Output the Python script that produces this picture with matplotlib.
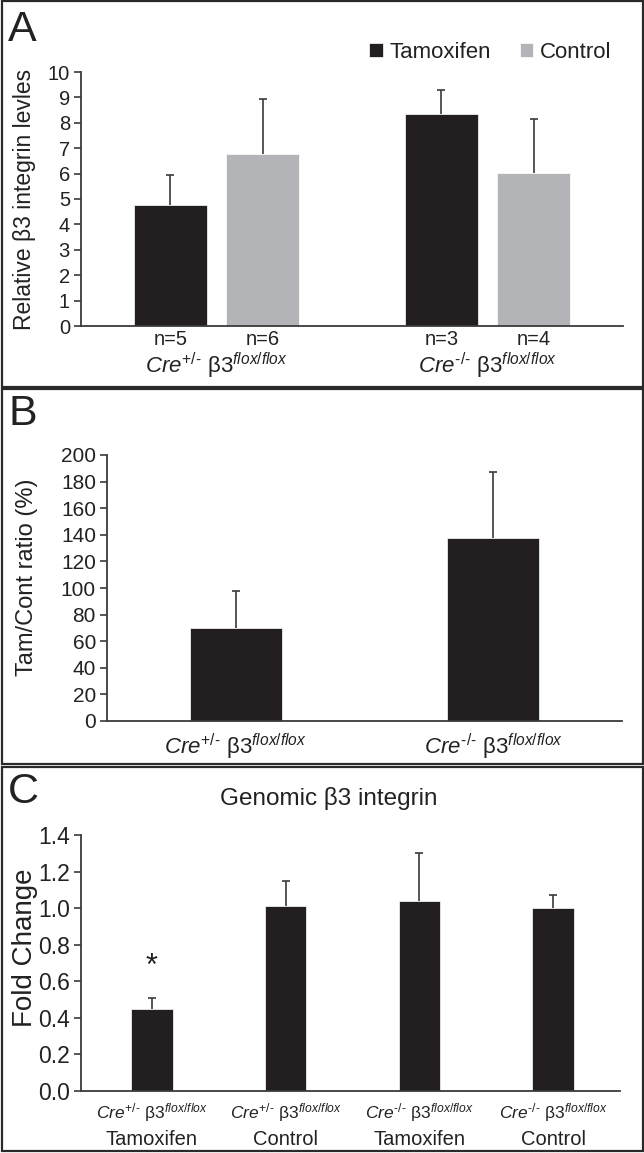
import matplotlib
matplotlib.use("Agg")
import matplotlib.pyplot as plt
from matplotlib.patches import Rectangle
import matplotlib.transforms as mtransforms
import numpy as np

plt.rcParams['font.family'] = ['Liberation Sans', 'DejaVu Sans']
plt.rcParams['mathtext.fontset'] = 'custom'
plt.rcParams['mathtext.rm'] = 'Liberation Sans'
plt.rcParams['mathtext.it'] = 'Liberation Sans:italic'
plt.rcParams['mathtext.bf'] = 'Liberation Sans:bold'

# ---------------- data ----------------
LBL_P = r"$\mathit{Cre}^{\text{+/-}}$ β$\mathit{3}^{\mathit{flox/flox}}$"
LBL_M = r"$\mathit{Cre}^{\text{-/-}}$ β$\mathit{3}^{\mathit{flox/flox}}$"

# Panel A
groups_a = [LBL_P, LBL_M]
tam_a = [4.78, 8.33]
tam_err_a = [1.17, 0.97]
ctl_a = [6.79, 6.01]
ctl_err_a = [2.13, 2.12]
n_tam_a = ["n=5", "n=3"]
n_ctl_a = ["n=6", "n=4"]

# Panel B
groups_b = [LBL_P, LBL_M]
ratio_b = [70.0, 137.5]
ratio_err_b = [28.0, 50.0]

# Panel C
groups_c = [LBL_P, LBL_P, LBL_M, LBL_M]
treat_c = ["Tamoxifen", "Control", "Tamoxifen", "Control"]
fold_c = [0.45, 1.014, 1.038, 1.003]
fold_err_c = [0.058, 0.133, 0.264, 0.069]

BLACK = "#231f20"
GREY = "#b3b4b7"
LINE = "#3a3a3a"
TXT = "#222222"

W, H = 644, 1153
fig = plt.figure(figsize=(W / 100, H / 100), dpi=100)
fig.patch.set_facecolor("white")


def ax_px(l, t, r, b):
    ax = fig.add_axes([l / W, 1 - b / H, (r - l) / W, (b - t) / H])
    ax._px = (l, t, r, b)
    return ax


def frame(t, b):
    fig.add_artist(Rectangle((1.5 / W, 1 - b / H), (W - 3) / W, (b - t) / H,
                             transform=fig.transFigure, fill=False,
                             edgecolor="#2a2a2a", linewidth=1.6))


def style(ax, tsize):
    for s in ("top", "right"):
        ax.spines[s].set_visible(False)
    for s in ("left", "bottom"):
        ax.spines[s].set_color(LINE)
        ax.spines[s].set_linewidth(1.3)
    ax.tick_params(axis="y", direction="out", length=5, width=1.2,
                   color=LINE, labelsize=tsize, pad=3, labelcolor=TXT)
    ax.tick_params(axis="x", length=0, labelcolor=TXT)


def ylabel_at(ax, text, size, px_x, frac_y):
    l, t, r, b = ax._px
    ax.set_ylabel(text, fontsize=size, va="center", color=TXT)
    ax.yaxis.set_label_coords((px_x - l) / (r - l), frac_y)


def errs(ax, x, v, e):
    _, caps, _ = ax.errorbar(x, v, yerr=[np.zeros(len(v)), e], fmt="none",
                             ecolor=LINE, elinewidth=1.2, capsize=3,
                             capthick=1.2, zorder=1)
    caps[0].set_visible(False)


frame(1, 387)
frame(389, 764)
frame(767, 1151)

# ---------------- Panel A ----------------
axA = ax_px(81, 72, 623, 326)
style(axA, 14.5)
xg = np.arange(len(groups_a))
off = 0.17
wA = 0.27
axA.bar(xg - off, tam_a, wA, color=BLACK, edgecolor="white", linewidth=0.5, label="Tamoxifen", zorder=2)
axA.bar(xg + off, ctl_a, wA, color=GREY, edgecolor="white", linewidth=0.5, label="Control", zorder=2)
errs(axA, xg - off, tam_a, tam_err_a)
errs(axA, xg + off, ctl_a, ctl_err_a)
axA.set_ylim(0, 10)
axA.set_yticks(np.arange(0, 11, 1))
axA.set_xlim(-0.5, 1.5)
axA.set_xticks(np.concatenate([xg - off, xg + off]))
axA.set_xticklabels(n_tam_a + n_ctl_a, fontsize=14.5)
axA.tick_params(axis="x", pad=3)
ylabel_at(axA, "Relative β3 integrin levles", 16.5, 25, 0.5)
trA = mtransforms.blended_transform_factory(axA.transData, axA.transAxes)
for x, g in zip(xg, groups_a):
    axA.text(x, -0.185, g, transform=trA, ha="center", va="baseline", fontsize=16, color=TXT)
axA.legend(loc="upper right", bbox_to_anchor=(620 / W, 1 - 33 / H),
           bbox_transform=fig.transFigure, ncol=2, frameon=False,
           fontsize=16, handlelength=0.6, handleheight=0.6,
           handletextpad=0.3, columnspacing=1.3, borderaxespad=0,
           labelcolor=TXT)
fig.text(8 / W, 1 - 30 / H, "A", fontsize=31, ha="left", va="center", color=TXT)

# ---------------- Panel B ----------------
axB = ax_px(107, 455, 622, 721)
style(axB, 15)
xb = np.arange(len(groups_b))
axB.bar(xb, ratio_b, 0.358, color=BLACK, edgecolor="white", linewidth=0.5, zorder=2)
errs(axB, xb, ratio_b, ratio_err_b)
axB.set_ylim(0, 200)
axB.set_yticks(np.arange(0, 201, 20))
axB.set_xlim(-0.5, 1.5)
axB.set_xticks(xb)
axB.set_xticklabels(groups_b, fontsize=16)
axB.tick_params(axis="x", pad=8)
ylabel_at(axB, "Tam/Cont ratio (%)", 17, 27, 0.54)
fig.text(8 / W, 1 - 414 / H, "B", fontsize=31, ha="left", va="center", color=TXT)

# ---------------- Panel C ----------------
axC = ax_px(81, 835, 620, 1091)
style(axC, 16.5)
xc = np.arange(len(fold_c))
axC.bar(xc, fold_c, 0.31, color=BLACK, edgecolor="white", linewidth=0.5, zorder=2)
errs(axC, xc, fold_c, fold_err_c)
axC.set_ylim(0, 1.4)
axC.set_yticks(np.arange(0, 1.41, 0.2))
axC.set_yticklabels([f"{v:.1f}" for v in np.arange(0, 1.41, 0.2)])
axC.set_xlim(-0.53, 3.5)
axC.set_xticks(xc)
axC.set_xticklabels(groups_c, fontsize=12.5)
axC.tick_params(axis="x", pad=7)
trC = mtransforms.blended_transform_factory(axC.transData, axC.transAxes)
for x, t in zip(xc, treat_c):
    axC.text(x, -0.19, t, transform=trC, ha="center", va="center", fontsize=14.5, color=TXT)
axC.text(xc[0], 0.68, "*", ha="center", va="center", fontsize=22, color=TXT)
ylabel_at(axC, "Fold Change", 20, 25, 0.56)
fig.text(329 / W, 1 - 798 / H, "Genomic β3 integrin", fontsize=17.5,
         ha="center", va="center", color=TXT)
fig.text(8 / W, 1 - 792 / H, "C", fontsize=31, ha="left", va="center", color=TXT)

fig.savefig("out.png", dpi=100, facecolor="white")
